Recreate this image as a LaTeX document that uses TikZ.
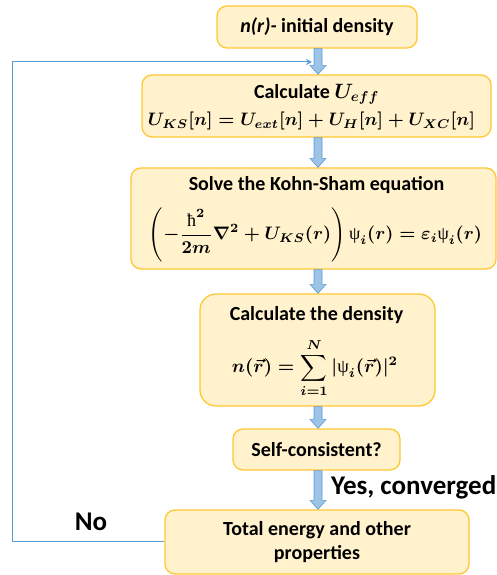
\documentclass[tikz,border=0pt]{standalone}
\usepackage[no-math]{fontspec}
\usepackage{amsmath}
\usepackage{graphicx}
\setmainfont{Carlito}
\newfontfamily\lsf{Liberation Serif}
\usetikzlibrary{calc,arrows.meta}
\definecolor{boxfill}{HTML}{FFF2CC}
\definecolor{boxline}{HTML}{FFC832}
\definecolor{arrfill}{HTML}{9DC3E6}
\definecolor{arrline}{HTML}{5B9BD5}
\newcommand\uppsi{\text{\lsf ψ}}
\newcommand\hbr{\text{\lsf ħ}}
\newcommand\blockarrow[2]{%
  \path let \p1=(#1.south), \p2=(#2.north) in
    [barrow] (314,\y1) -- (322,\y1) -- (322,\y2+9pt) -- (326,\y2+9pt) -- (318,\y2)
    -- (310,\y2+9pt) -- (314,\y2+9pt) -- cycle;}
\begin{document}
\begin{tikzpicture}[x=1pt,y=1pt,
  box/.style={draw=boxline, fill=boxfill, line width=1.3pt, rounded corners=10pt,
    align=center, font=\fontsize{20}{24}\selectfont\bfseries, inner sep=0pt},
  ttl/.style={font=\fontsize{20}{24}\selectfont\bfseries, inner sep=0pt},
  eqn/.style={inner sep=0pt},
  barrow/.style={fill=arrfill, draw=arrline, line width=0.6pt},
  loopline/.style={draw=arrline, line width=1pt},
  lbl/.style={font=\fontsize{27}{32}\selectfont\bfseries, inner sep=0pt}]
\useasboundingbox (0,0) rectangle (497,575);
\node[box, minimum width=200pt, minimum height=42pt] (b1) at (317,548)
  {{\itshape n(r)-} initial density};
% box 2
\node[box, minimum width=349pt, minimum height=62pt] (b2) at (316.5,469) {};
\node[ttl] (t2) at (316.5,481) {Calculate {\boldmath$U_{eff}$}};
\node[eqn] (e2) at (311.5,454)
  {\resizebox{327pt}{!}{\boldmath$U_{KS}[n] = U_{ext}[n] + U_H[n] + U_{XC}[n]$}};
% box 3
\node[box, minimum width=365pt, minimum height=101pt] (b3) at (313.5,356.5) {};
\node[ttl] (t3) at (316.5,390) {Solve the Kohn-Sham equation};
\node[eqn] (e3) at (315.5,340)
  {\resizebox{333pt}{!}{\boldmath$\displaystyle\left(-\frac{\hbr^2}{2m}\nabla^2 + U_{KS}(r)\right)\uppsi_i(r) = \varepsilon_i\uppsi_i(r)$}};
% box 4
\node[box, minimum width=235pt, minimum height=112pt, rounded corners=16pt] (b4) at (317.5,225) {};
\node[ttl] (t4) at (316.5,260) {Calculate the density};
\node[eqn] (e4) at (315,207)
  {\resizebox{166pt}{!}{\boldmath$\displaystyle n(\vec{r}) = \sum_{i=1}^{N}|\uppsi_i(\vec{r})|^2$}};
\node[box, minimum width=167pt, minimum height=41pt] (b5) at (316.5,125.5)
  {Self-consistent?};
\node[box, minimum width=304pt, minimum height=64pt] (b6) at (317,33)
  {Total energy and other\\properties};
\blockarrow{b1}{b2}
\blockarrow{b2}{b3}
\blockarrow{b3}{b4}
\blockarrow{b4}{b5}
\blockarrow{b5}{b6}
\coordinate (lc) at (12,513);
\coordinate (lt) at (312,513);
\draw[loopline, -{Stealth[length=6pt,width=6pt]}] (b6.west) -| (lc) -- (lt);
\node[lbl, anchor=west] (yes) at (331,88) {Yes, converged};
\node[lbl] (no) at (91,53) {No};
\end{tikzpicture}
\end{document}
